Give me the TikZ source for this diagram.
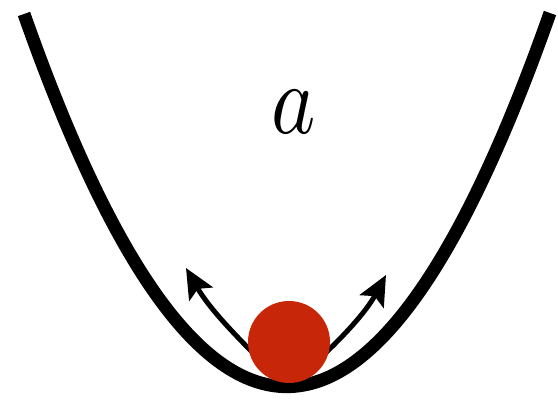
\documentclass[tikz,border=0pt]{standalone}
\usetikzlibrary{arrows.meta}
\definecolor{ballred}{RGB}{200,38,8}
\tikzset{
  well/.style={line width=13pt, line cap=butt},
  kick/.style={line width=5pt, -{Stealth[length=30pt,width=27pt,inset=6pt]}},
  ballstyle/.style={circle, fill=ballred, minimum size=82pt, inner sep=0pt}
}
\begin{document}
\begin{tikzpicture}[x=1pt,y=-1pt]
\useasboundingbox (0,0) rectangle (558,401);
\coordinate (wl) at (24,14);
\coordinate (wr) at (550,13);
\draw[well] (wl) .. controls (199.3,511.3) and (374.7,510.7) .. (wr);
\coordinate (ls) at (264,364);
\coordinate (lt) at (186,268);
\coordinate (rs) at (314,364);
\coordinate (rt) at (386,275);
\draw[kick] (ls) .. controls (234,334) and (209,308) .. (lt);
\draw[kick] (rs) .. controls (344,336) and (366,312) .. (rt);
\node[ballstyle] (ball) at (289,342) {};
\node (label) at (294,112) {\scalebox{8.4}[10]{$a$}};
\end{tikzpicture}
\end{document}
